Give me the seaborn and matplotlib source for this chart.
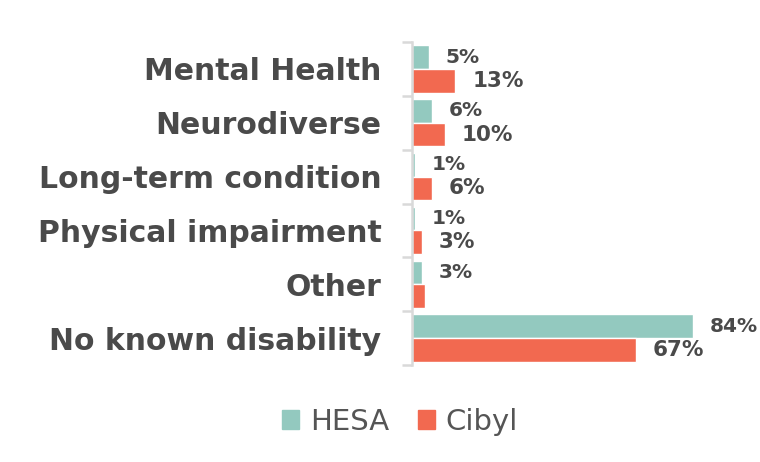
import pandas as pd
import matplotlib.pyplot as plt
import seaborn as sns
from matplotlib.patches import Patch

# Datos
categorias = ["Mental Health", "Neurodiverse", "Long-term condition",
              "Physical impairment", "Other", "No known disability"]
hesa = [5, 6, 1, 1, 3, 84]
cibyl = [13, 10, 6, 3, 4, 67]
etiquetas_hesa = ["5%", "6%", "1%", "1%", "3%", "84%"]
etiquetas_cibyl = ["13%", "10%", "6%", "3%", "", "67%"]

COLOR_HESA = "#93c9bf"
COLOR_CIBYL = "#f26950"
GRIS_TEXTO = "#4a4a4a"

df = pd.DataFrame({
    "categoria": categorias * 2,
    "valor": hesa + cibyl,
    "fuente": ["HESA"] * len(categorias) + ["Cibyl"] * len(categorias),
})

sns.set_theme(style="white")
plt.rcParams['font.family'] = ['DejaVu Sans']

fig = plt.figure(figsize=(7.6, 4.62), dpi=100)
ax = fig.add_axes([0.542, 0.210, 0.458, 0.699])

sns.barplot(data=df, y="categoria", x="valor", hue="fuente", orient="h",
            palette={"HESA": COLOR_HESA, "Cibyl": COLOR_CIBYL},
            width=0.88, ax=ax, legend=False, saturation=1)

ax.set_xlim(0, 104)
ax.set_ylim(5.5, -0.5)
ax.set_xlabel("")
ax.set_ylabel("")
ax.set_xticks([])

# etiquetas de valores
for cont, labs, size in zip(ax.containers, [etiquetas_hesa, etiquetas_cibyl], [14.5, 15.5]):
    ax.bar_label(cont, labels=labs, padding=12, fontsize=size,
                 fontweight="bold", color=GRIS_TEXTO)

for s in ["top", "right", "bottom"]:
    ax.spines[s].set_visible(False)
ax.spines["left"].set_color("#d9d9d9")
ax.spines["left"].set_linewidth(1.8)

ax.set_yticks(range(len(categorias)))
ax.set_yticklabels(categorias, fontsize=21.5, fontweight="bold", color=GRIS_TEXTO)
ax.tick_params(axis="y", which="major", length=0, pad=22)
ax.set_yticks([i - 0.5 for i in range(len(categorias) + 1)], minor=True)
ax.tick_params(axis="y", which="minor", length=7, width=1.8, color="#d9d9d9", left=True)

handles = [Patch(color=COLOR_HESA, label="HESA"), Patch(color=COLOR_CIBYL, label="Cibyl")]
fig.legend(handles=handles, loc="center", bbox_to_anchor=(400 / 760, 1 - 422 / 462),
           ncol=2, frameon=False, fontsize=21, labelcolor="#555555",
           handlelength=0.6, handleheight=0.6, handletextpad=0.35, columnspacing=1.0)

fig.savefig("out.png", dpi=100, facecolor="white")
